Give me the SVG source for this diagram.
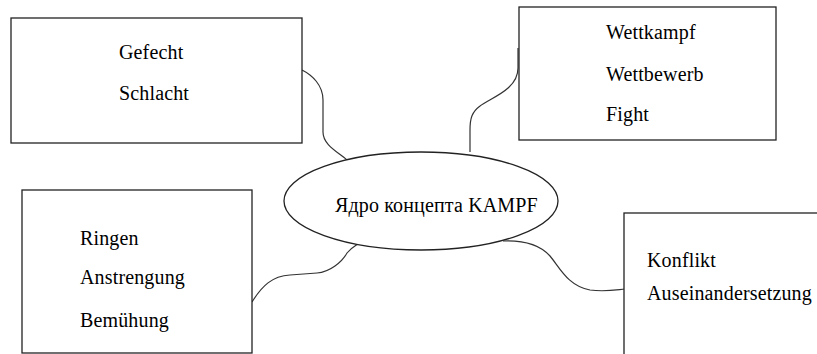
<svg xmlns="http://www.w3.org/2000/svg" width="817" height="354" viewBox="0 0 817 354">
<style>
.box{fill:#fff;stroke:#222;stroke-width:1.3}
.ln{fill:none;stroke:#333;stroke-width:1.2}
text{font-family:"Liberation Serif","Times New Roman",serif;font-size:20px;fill:#000;letter-spacing:0.15px}
</style>
<rect width="817" height="354" fill="#fff"/>
<g id="connectors">
<path class="ln" d="M302,70 C312,75 323,85 323,100 L323,132 C323,145 338,152 347,160"/>
<path class="ln" d="M518,48 L518,68 C518,90 490,98 480,106 C472,112 470,118 470,130 L470,152"/>
<path class="ln" d="M252,302 C262,286 272,276 290,275 L317,273 C330,272 342,262 347,253 C351,248 355,246 358,244"/>
<path class="ln" d="M503,241 C525,240 540,245 550,256 C560,268 568,286 590,290 C605,292 615,290 625,289"/>
</g>
<g id="n1">
<rect class="box" x="11" y="18" width="291" height="125"/>
<text x="119" y="59">Gefecht</text>
<text x="119" y="100">Schlacht</text>
</g>
<g id="n2">
<rect class="box" x="519" y="7" width="257" height="133"/>
<text x="606" y="39">Wettkampf</text>
<text x="606" y="81">Wettbewerb</text>
<text x="606" y="121">Fight</text>
</g>
<g id="n3">
<rect class="box" x="22" y="190" width="230" height="163"/>
<text x="80" y="245">Ringen</text>
<text x="80" y="284">Anstrengung</text>
<text x="80" y="327">Bemühung</text>
</g>
<g id="n4">
<rect class="box" x="624" y="213" width="220" height="160"/>
<text x="647" y="267">Konflikt</text>
<text x="647" y="300">Auseinandersetzung</text>
</g>
<g id="core">
<ellipse class="box" cx="421" cy="201" rx="137" ry="49"/>
<text x="335" y="212">Ядро концепта KAMPF</text>
</g>
</svg>
